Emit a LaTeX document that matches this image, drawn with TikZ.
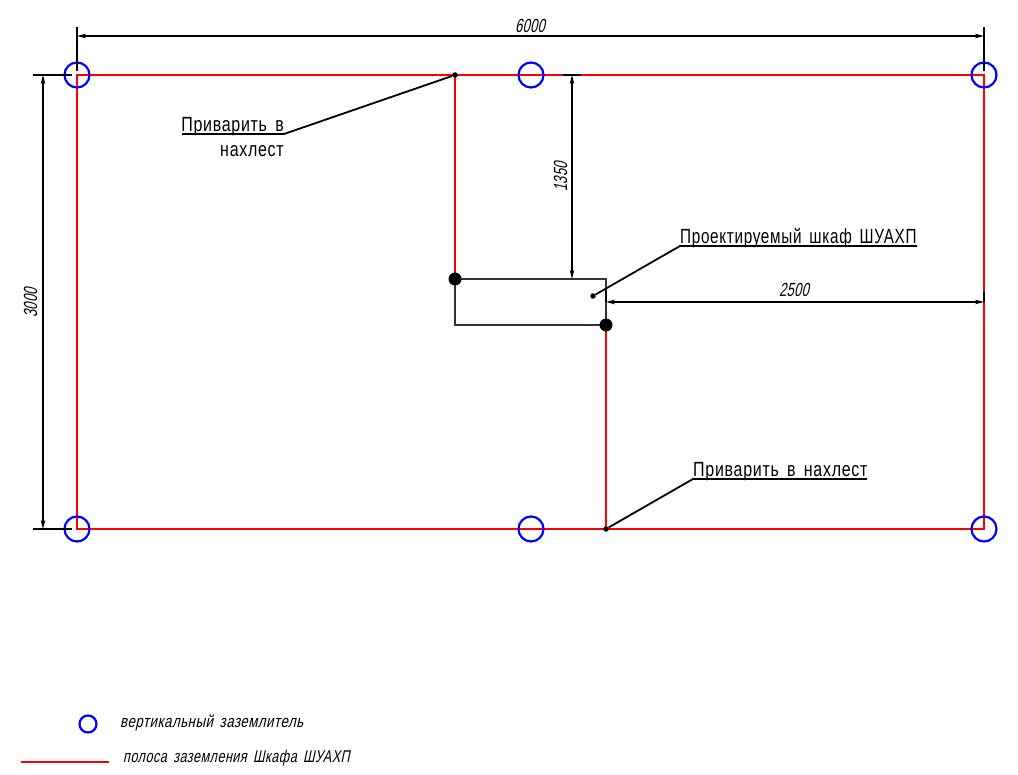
\documentclass[tikz,border=0pt]{standalone}
\usepackage{fontspec}
\usetikzlibrary{arrows.meta}
\setmainfont{Liberation Sans}
\newfontfamily\uprfont[FakeStretch=0.78,WordSpace=1.6,LetterSpace=3.5]{Liberation Sans}
\newfontfamily\itfont[FakeStretch=0.78,FakeSlant=0.22,WordSpace=1.6,LetterSpace=3]{Liberation Sans}
\newfontfamily\numfont[FakeStretch=0.68,FakeSlant=0.22,LetterSpace=1.5]{Liberation Sans}
\tikzset{
  x=1pt,y=-1pt,
  redline/.style={draw=red,line width=2pt},
  thin black/.style={draw=black!80,line width=1.2pt},
  dimline/.style={draw=black,line width=2pt,{Stealth[length=9pt,width=4.5pt]}-{Stealth[length=9pt,width=4.5pt]}},
  extline/.style={draw=black,line width=2pt},
  leader/.style={draw=black,line width=1.8pt},
  earth/.style={circle,draw=blue,line width=2.2pt,minimum size=25pt,inner sep=0pt},
  bigdot/.style={circle,fill=black,minimum size=13pt,inner sep=0pt},
  smalldot/.style={circle,fill=black,minimum size=5.5pt,inner sep=0pt},
  labelup/.style={inner sep=0pt,font=\uprfont\fontsize{20.5}{20.5}\selectfont},
  labelit/.style={inner sep=0pt,font=\numfont\fontsize{19}{19}\selectfont},
  legendit/.style={inner sep=0pt,font=\itfont\fontsize{17}{17}\selectfont},
}
\begin{document}
\begin{tikzpicture}
\useasboundingbox (0,0) rectangle (1018,775);
% grid corners
\coordinate (tl) at (77,75);
\coordinate (tr) at (984,75);
\coordinate (bl) at (77,529);
\coordinate (br) at (984,529);
\coordinate (w1) at (455,75);
\coordinate (w2) at (606,529);
\coordinate (c1) at (455,279);
\coordinate (c2) at (606,279);
\coordinate (c3) at (606,325);
\coordinate (c4) at (455,325);
% cabinet
\draw[thin black] (c1) -- (c2) -- (c3) -- (c4) -- cycle;
% red strip
\draw[redline] (tl) -- (tr) -- (br) -- (bl) -- cycle;
\draw[redline] (w1) -- (c1);
\draw[redline] (c3) -- (w2);
% earth electrodes
\node[earth] (e1) at (tl) {};
\node[earth] (e2) at (531,75) {};
\node[earth] (e3) at (tr) {};
\node[earth] (e4) at (bl) {};
\node[earth] (e5) at (531,529) {};
\node[earth] (e6) at (br) {};
% dots
\node[bigdot] (d1) at (c1) {};
\node[bigdot] (d2) at (c3) {};
\node[smalldot] (s1) at (w1) {};
\node[smalldot] (s2) at (w2) {};
\node[smalldot] (s3) at (593,296) {};
% top dimension
\coordinate (a1) at (77,27); \coordinate (a2) at (77,71);
\coordinate (a3) at (984,27); \coordinate (a4) at (984,71);
\coordinate (a5) at (77,36); \coordinate (a6) at (984,36);
\draw[extline] (a1) -- (a2);
\draw[extline] (a3) -- (a4);
\draw[dimline] (a5) -- (a6);
\node[labelit,anchor=base] (t6000) at (530,33) {6000};
% left dimension
\coordinate (b1) at (33,75); \coordinate (b2) at (72,75);
\coordinate (b3) at (33,529); \coordinate (b4) at (72,529);
\coordinate (b5) at (43,75); \coordinate (b6) at (43,529);
\draw[extline] (b1) -- (b2);
\draw[extline] (b3) -- (b4);
\draw[dimline] (b5) -- (b6);
\node[labelit,anchor=base,rotate=90] (t3000) at (37,303) {3000};
% 1350 dimension
\coordinate (f1) at (563,75); \coordinate (f2) at (581,75);
\coordinate (f3) at (572,75); \coordinate (f4) at (572,279);
\coordinate (f5) at (581,279);
\draw[extline] (f1) -- (f2);
\draw[thin black] (f4) -- (f5);
\draw[dimline] (f3) -- (f4);
\node[labelit,anchor=base,rotate=90] (t1350) at (567,177) {1350};
% 2500 dimension
\coordinate (g1) at (606,290); \coordinate (g2) at (606,302);
\coordinate (g3) at (984,292); \coordinate (g4) at (984,302);
\draw[extline] (g1) -- (g2);
\draw[extline] (g3) -- (g4);
\draw[dimline] (g2) -- (g4);
\node[labelit,anchor=base] (t2500) at (794,297) {2500};
% leaders
\coordinate (l1) at (284,134); \coordinate (l2) at (182,134);
\draw[leader] (s1) -- (l1) -- (l2);
\node[labelup,anchor=base east] (p1) at (284,132) {Приварить в};
\node[labelup,anchor=base east] (p2) at (284,157) {нахлест};
\coordinate (l3) at (680,246); \coordinate (l4) at (917,246);
\draw[leader] (s3) -- (l3) -- (l4);
\node[labelup,anchor=base west] (p3) at (680,243.5) {\scalebox{0.955}[1]{Проектируемый шкаф ШУАХП}};
\coordinate (l5) at (693,479); \coordinate (l6) at (867,479);
\draw[leader] (s2) -- (l5) -- (l6);
\node[labelup,anchor=base west] (p4) at (693,476.5) {Приварить в нахлест};
% legend
\node[earth,minimum size=17pt] (k1) at (88,724) {};
\node[legendit,anchor=base west] (k2) at (120,727) {вертикальный заземлитель};
\coordinate (k3) at (21,762); \coordinate (k4) at (109,762);
\draw[redline] (k3) -- (k4);
\node[legendit,anchor=base west] (k5) at (123,762) {\scalebox{0.95}[1]{полоса заземления Шкафа ШУАХП}};
\end{tikzpicture}
\end{document}
